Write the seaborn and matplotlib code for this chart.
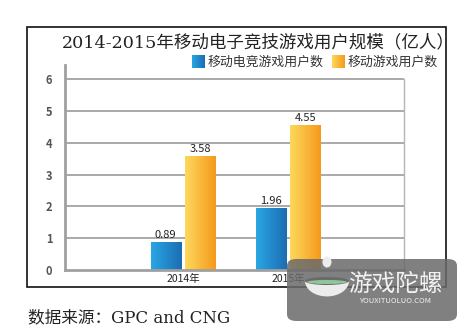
import numpy as np
import pandas as pd
import matplotlib
matplotlib.use("Agg")
import matplotlib.pyplot as plt
from matplotlib.patches import Rectangle, FancyBboxPatch, Wedge, Ellipse
from matplotlib.colors import LinearSegmentedColormap
import seaborn as sns

# data
years = ["2014年", "2015年"]
series_names = ["移动电竞游戏用户数", "移动游戏用户数"]
esports_users = [0.89, 1.96]
mobile_users = [3.58, 4.55]
yticks = [0, 1, 2, 3, 4, 5, 6]

title = "2014-2015年移动电子竞技游戏用户规模（亿人）"
source = "数据来源：GPC and CNG"

sns.set_theme(style="white")
plt.rcParams["font.family"] = ["Noto Sans CJK SC", "DejaVu Sans"]
serif_mix = ["DejaVu Serif", "Noto Sans CJK SC"]

df = pd.DataFrame({
    "year": years * 2,
    "series": [series_names[0]] * len(years) + [series_names[1]] * len(years),
    "value": esports_users + mobile_users,
})

blue_grad = ["#2aa6e4", "#1c6db3"]
orange_grad = ["#fdd85c", "#f59a1c"]

W, H = 472, 331
fig = plt.figure(figsize=(W / 100, H / 100), dpi=100)
ax = fig.add_axes([65 / W, 1 - 270 / H, (404 - 65) / W, 205 / H])

sns.barplot(data=df, x="year", y="value", hue="series",
            palette=[blue_grad[1], orange_grad[1]], width=0.66, gap=0.13,
            legend=False, ax=ax, saturation=1)

XL, YL = (-1.124, 2.105), (0, 6.44)
ax.set_xlabel("")
ax.set_ylabel("")

# gridlines stop at 6, right border only up to 6
for v in yticks[1:]:
    ax.axhline(v, color="#a9a9a9", lw=1.4, zorder=0.5)
ax.plot([XL[1], XL[1]], [0, 6], color="#b5b5b5", lw=1.0, clip_on=False, zorder=0.5)

for s in ["top", "right"]:
    ax.spines[s].set_visible(False)
for s in ["left", "bottom"]:
    ax.spines[s].set_color("#a0a0a0")
    ax.spines[s].set_linewidth(2.0)

ax.set_yticks(yticks)
ax.set_yticklabels([str(v) for v in yticks], fontsize=8, fontweight="bold", color="#555555")
ax.tick_params(axis="y", length=0, pad=9)
ax.tick_params(axis="x", length=0, pad=3, labelsize=7.5, labelcolor="#222222")
ax.set_xticks([0.5], minor=True)
ax.tick_params(axis="x", which="minor", length=5, width=1.4, color="#111111", direction="inout")

# gradient fill inside each bar
cmaps = {"b": LinearSegmentedColormap.from_list("b", blue_grad),
         "o": LinearSegmentedColormap.from_list("o", orange_grad)}
gradient = np.linspace(0, 1, 64).reshape(1, -1)
for p in list(ax.patches):
    x0, w, h = p.get_x(), p.get_width(), p.get_height()
    if h <= 0:
        continue
    is_blue = any(abs(h - v) < 1e-9 for v in esports_users)
    im = ax.imshow(gradient, cmap=cmaps["b" if is_blue else "o"], aspect="auto",
                   extent=[x0, x0 + w, 0, h], zorder=2, interpolation="bilinear")
    im.set_clip_path(p)
    p.set_facecolor("none")
    p.set_edgecolor("none")
    ax.text(x0 + w / 2, h + 0.06, f"{h:.2f}", ha="center", va="bottom",
            fontsize=8, color="#222222", zorder=3)
ax.set_xlim(*XL)
ax.set_ylim(*YL)

# outer frame
fig.patches.append(Rectangle((26.5 / W, 1 - 287 / H), (446 - 26.5) / W, (287 - 27) / H,
                             transform=fig.transFigure, fill=False, ec="#111111", lw=1.2))

fig.text(258 / W, 1 - 43 / H, title, ha="center", va="center", fontsize=12.6,
         color="#222222", family=serif_mix)

# legend
leg_y = 1 - 62 / H
for x0, col, label in [(192, blue_grad, series_names[0]), (332, orange_grad, series_names[1])]:
    lax = fig.add_axes([x0 / W, 1 - 68 / H, 13 / W, 13 / H])
    lax.imshow(gradient, cmap=LinearSegmentedColormap.from_list("l", col),
               aspect="auto", extent=[0, 1, 0, 1])
    lax.set_axis_off()
    fig.text((x0 + 16) / W, leg_y, label, ha="left", va="center", fontsize=9.3,
             color="#333333")

fig.text(28 / W, 1 - 318 / H, source, ha="left", va="center", fontsize=12,
         color="#222222", family=serif_mix)

# watermark badge
fig.patches.append(FancyBboxPatch((287 / W, 1 - 321 / H), 170 / W, 62 / H,
                                  boxstyle="round,pad=0,rounding_size=0.02",
                                  transform=fig.transFigure, fc="#6a6a6a", ec="none",
                                  alpha=0.85, zorder=5))
wm = dict(transform=fig.transFigure, zorder=6)
fig.patches.append(Wedge((327 / W, 1 - 281 / H), 22 / W, 180, 360, fc="#ececec", ec="none", **wm))
fig.patches.append(Ellipse((327 / W, 1 - 281 / H), 44 / W, 8 / H, fc="#6a6a6a", ec="none", **wm))
fig.patches.append(Ellipse((327 / W, 1 - 282 / H), 40 / W, 4 / H, fc="#8fc79a", ec="none", **wm))
fig.patches.append(Ellipse((327 / W, 1 - 262 / H), 9 / W, 11 / H, fc="#ececec", ec="none", **wm))
fig.text(395 / W, 1 - 284 / H, "游戏陀螺", ha="center", va="center", fontsize=17,
         color="#f2f2f2", zorder=7)
fig.text(395 / W, 1 - 301 / H, "YOUXITUOLUO.COM", ha="center", va="center",
         fontsize=5.5, color="#f2f2f2", zorder=7)

fig.savefig("out.png", dpi=100)
